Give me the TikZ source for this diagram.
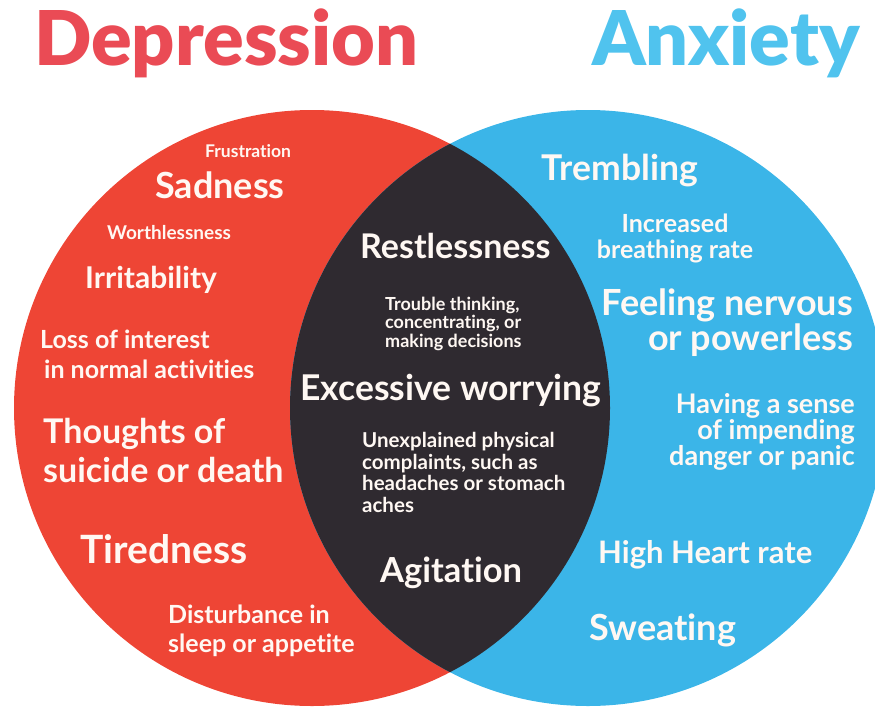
\documentclass[tikz,border=0pt]{standalone}
\usepackage{fontspec}
\setmainfont{Lato}[Ligatures=NoCommon]
\newfontfamily\heavyfont{Lato Black}[Ligatures=NoCommon]

\definecolor{deprred}{HTML}{EE4535}
\definecolor{anxblue}{HTML}{3BB5E8}
\definecolor{overlap}{HTML}{2F2A30}
\definecolor{deprtitle}{HTML}{EA4B55}
\definecolor{anxtitle}{HTML}{50C3EE}
\definecolor{paper}{HTML}{FFF8F3}

\begin{document}
\begin{tikzpicture}[x=1pt, y=-1pt]
        \tikzset{sym/.style 2 args = {text=paper, inner sep=0pt, font=\bfseries\fontsize{#1}{#2}\selectfont}}
        \tikzset{title/.style = {inner sep=0pt, anchor=base west, font=\heavyfont\fontsize{75.5}{76}\selectfont}}

        \useasboundingbox (0,0) rectangle (875,707);

        % the two sets and their overlap
        \fill[deprred] (312,408) circle (298pt);
        \fill[anxblue] (588,408) circle (298pt);
        \begin{scope}
          \clip (312,408) circle (298pt);
          \fill[overlap] (588,408) circle (298pt);
        \end{scope}

        \node[title, text=deprtitle] (depr) at (34,65) {Depression};
        \node[title, text=anxtitle, anchor=base east] (anx) at (860,65) {Anxiety};

        % depression only (multi-line nodes sit on their last line)
        \node[sym={17.5}{18}, anchor=base west] (frus) at (205,157) {Frustration};
        \node[sym={36}{36}, anchor=base west] (sad) at (155,198) {Sadness};
        \node[sym={19}{19}, anchor=base west] (worth) at (107,239) {Worthlessness};
        \node[sym={30}{30}, anchor=base west] (irr) at (85,288) {Irritability};
        \node[sym={25}{30}, anchor=base west, align=left] (loss) at (40,378) {Loss of interest\\\hspace{4pt}in normal activities};
        \node[sym={34}{39}, anchor=base west, align=left] (sui) at (43,482) {Thoughts of\\suicide or death};
        \node[sym={39}{39}, anchor=base west] (tired) at (80,563) {Tiredness};
        \node[sym={25}{29}, anchor=base west, align=left] (sleep) at (168,652) {Disturbance in\\sleep or appetite};

        % both
        \node[sym={34}{34}, anchor=base west] (rest) at (360,258) {Restlessness};
        \node[sym={18}{18.5}, anchor=base west, align=left] (think) at (385,347) {Trouble thinking,\\concentrating, or\\making decisions};
        \node[sym={35.5}{36}, anchor=base west] (worry) at (300,400) {Excessive worrying};
        \node[sym={20.5}{21.5}, anchor=base west, align=left] (phys) at (362,512) {Unexplained physical\\complaints, such as\\headaches or stomach\\aches};
        \node[sym={34.5}{35}, anchor=base west] (agit) at (380,582) {Agitation};

        % anxiety only
        \node[sym={35.5}{36}, anchor=base east] (trem) at (698,180) {Trembling};
        \node[sym={25}{26}, anchor=base, align=center] (breath) at (675,258) {Increased\\breathing rate};
        \node[sym={36}{35}, anchor=base east, align=right] (nerv) at (853,350) {Feeling nervous\\or powerless};
        \node[sym={27}{26}, anchor=base east, align=right] (panic) at (855,465) {Having a sense\\of impending\hspace{5pt}\\danger or panic};
        \node[sym={31}{31}, anchor=base west] (heart) at (598,563) {High Heart rate};
        \node[sym={36}{36}, anchor=base west] (sweat) at (589,640) {Sweating};
\end{tikzpicture}
\end{document}
